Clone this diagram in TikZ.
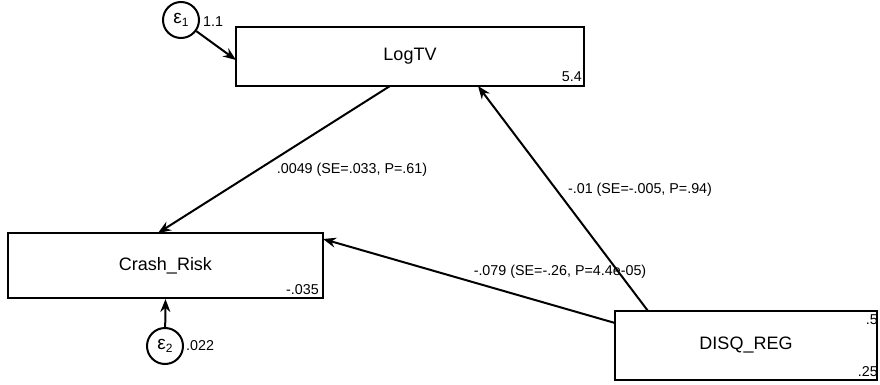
\documentclass[tikz,border=0pt]{standalone}
\usepackage{fontspec}
\setmainfont{Liberation Sans}
\usetikzlibrary{arrows.meta,calc}
\tikzset{
  var/.style={draw, line width=2pt, rectangle, inner sep=0pt, font=\fontsize{18}{18}\selectfont},
  err/.style={draw, line width=2pt, circle, minimum size=36pt, inner sep=0pt},
  conn/.style={line width=2pt, -{Stealth[length=13pt,width=10pt]}},
  lab/.style={font=\fontsize{14.3}{14.3}\selectfont, inner sep=0pt},
  val/.style={font=\fontsize{14.3}{14.3}\selectfont, inner sep=0pt}
}
\newcommand{\epsn}[1]{{\fontsize{19}{19}\selectfont ε}\raisebox{-3pt}{\fontsize{12}{12}\selectfont #1}}
\begin{document}
\begin{tikzpicture}[x=1pt,y=-1pt]
\useasboundingbox (0,0) rectangle (880,385);
% boxes
\node[var, minimum width=348pt, minimum height=59pt] (logtv) at (410,56.5) {LogTV};
\node[var, minimum width=315pt, minimum height=65pt] (crash) at (165.5,265.5) {Crash\_Risk};
\node[var, minimum width=262pt, minimum height=69pt] (disq) at (746,345.5) {DISQ\_REG};
% error terms
\node[err] (e1) at (181,20) {\epsn{1}};
\node[err] (e2) at (165,346) {\epsn{2}};
% values
\node[val, anchor=west] (v11) at (203,22) {1.1};
\node[val, anchor=east] (v54) at (582,77) {5.4};
\node[val, anchor=east] (v035) at (319,290) {-.035};
\node[val, anchor=west] (v022) at (186,346) {.022};
\node[val, anchor=east] (v5) at (878,320) {.5};
\node[val, anchor=east] (v25) at (878,372) {.25};
% connector endpoints
\coordinate (p1s) at (390,86);
\coordinate (p1e) at (158,233);
\coordinate (p2s) at (648,311);
\coordinate (p2e) at (478,86);
\coordinate (p3s) at (615,323);
\coordinate (p3e) at (323,239);
\coordinate (p4e) at (236,60);
% connectors
\draw[conn] (p1s) -- (p1e);
\draw[conn] (p2s) -- (p2e);
\draw[conn] (p3s) -- (p3e);
\draw[conn] (e1) -- (p4e);
\draw[conn] (e2) -- (crash.south);
% labels
\node[lab] (l1) at (352,170) {.0049 (SE=.033, P=.61)};
\node[lab] (l2) at (640,190) {-.01 (SE=-.005, P=.94)};
\node[lab] (l3) at (560,272) {-.079 (SE=-.26, P=4.4e-05)};
\end{tikzpicture}
\end{document}
